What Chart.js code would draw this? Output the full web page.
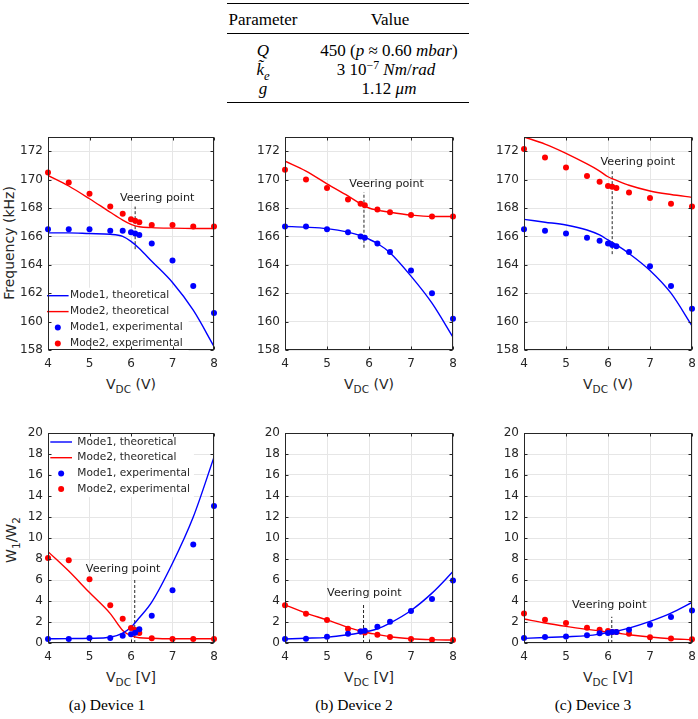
<!DOCTYPE html>
<html>
<head>
<meta charset="utf-8">
<script src="https://cdn.jsdelivr.net/npm/chart.js@4.4.1/dist/chart.umd.min.js"></script>
<style>
  body { margin: 0; background: #fff; }
  #page { position: relative; width: 698px; height: 719px; overflow: hidden; font-family: 'DejaVu Sans', sans-serif; color: #262626; }
  canvas { position: absolute; }
  .lbl { position: absolute; white-space: nowrap; transform: translate(-50%, -50%); line-height: 1; }
  .ax { font-size: 14px; }
  .rot { transform: translate(-50%, -50%) rotate(-90deg); }
  .serif { font-family: 'Liberation Serif', serif; color: #000; }
  .tab { font-size: 17px; }
  .cap { font-size: 15.5px; }
  .rule { position: absolute; left: 227px; width: 242px; background: #000; }
  sub { font-size: 75%; vertical-align: -0.4em; line-height: 0; }
  sup { font-size: 70%; vertical-align: 0.5em; line-height: 0; }
</style>
</head>
<body>
<div id="page">
  <!-- parameter table -->
  <div class="rule" style="top:3px;height:1.4px"></div>
  <div class="rule" style="top:33px;height:0.8px"></div>
  <div class="rule" style="top:102px;height:1.4px"></div>
  <div class="lbl serif tab" style="left:263px;top:19px">Parameter</div>
  <div class="lbl serif tab" style="left:390px;top:19px">Value</div>
  <div class="lbl serif tab" style="left:263px;top:50px"><i>Q</i></div>
  <div class="lbl serif tab" style="left:389px;top:50px">450 (<i>p</i> &asymp; 0.60 <i>mbar</i>)</div>
  <div class="lbl serif tab" style="left:263px;top:69px"><i>k&#771;</i><sub><i>e</i></sub></div>
  <div class="lbl serif tab" style="left:386px;top:69px">3 10<sup>&minus;7</sup> <i>Nm</i>/<i>rad</i></div>
  <div class="lbl serif tab" style="left:263px;top:88px"><i>g</i></div>
  <div class="lbl serif tab" style="left:389px;top:88px">1.12 <i>&mu;m</i></div>

  <!-- axis titles -->
  <div class="lbl ax rot" style="left:9px;top:243px">Frequency (kHz)</div>
  <div class="lbl ax rot" style="left:11px;top:540px">W<sub>1</sub>/W<sub>2</sub></div>
  <div class="lbl ax" style="left:131px;top:384px">V<sub>DC</sub> (V)</div>
  <div class="lbl ax" style="left:369px;top:384px">V<sub>DC</sub> (V)</div>
  <div class="lbl ax" style="left:608px;top:384px">V<sub>DC</sub> (V)</div>
  <div class="lbl ax" style="left:131px;top:677px">V<sub>DC</sub> [V]</div>
  <div class="lbl ax" style="left:369px;top:677px">V<sub>DC</sub> [V]</div>
  <div class="lbl ax" style="left:608px;top:677px">V<sub>DC</sub> [V]</div>

  <div class="lbl serif cap" style="left:107px;top:705px">(a) Device 1</div>
  <div class="lbl serif cap" style="left:354px;top:705px">(b) Device 2</div>
  <div class="lbl serif cap" style="left:593px;top:705px">(c) Device 3</div>
</div>
<script>
// bias voltage (V) where things were measured / computed
const vdcTheory = [4, 4.5, 5, 5.5, 5.8, 6, 6.2, 6.5, 7, 7.5, 8];
const vdcExp = [4, 4.5, 5, 5.5, 5.8, 6, 6.1, 6.2, 6.5, 7, 7.5, 8];
const vdcExpDev2 = [4, 4.5, 5, 5.5, 5.8, 5.9, 6.2, 6.5, 7, 7.5, 8];

const vdcTicks = [4, 5, 6, 7, 8];
const freqTicks = [158, 160, 162, 164, 166, 168, 170, 172];
const ratioTicks = [0, 2, 4, 6, 8, 10, 12, 14, 16, 18, 20];

// frequencies (kHz)
const freq1Mode1Exp = [166.5, 166.5, 166.5, 166.4, 166.4, 166.3, 166.2, 166.1, 165.5, 164.3, 162.5, 160.6];
const freq1Mode2Exp = [170.5, 169.8, 169.0, 168.1, 167.6, 167.2, 167.1, 167.0, 166.8, 166.8, 166.7, 166.7];
const freq1Mode1Th = [166.25, 166.25, 166.2, 166.15, 166.0, 165.65, 165.15, 164.25, 162.75, 160.8, 158.25];
const freq1Mode2Th = [170.3, 169.55, 168.65, 167.7, 167.15, 166.85, 166.68, 166.62, 166.58, 166.56, 166.56];

const freq2Mode1Exp = [166.7, 166.7, 166.5, 166.3, 166.0, 165.9, 165.5, 164.9, 163.6, 162.0, 160.2];
const freq2Mode2Exp = [170.7, 170.0, 169.4, 168.6, 168.3, 168.2, 167.9, 167.7, 167.5, 167.4, 167.4];
const freq2Mode1Th = [166.7, 166.65, 166.55, 166.3, 166.05, 165.8, 165.5, 164.85, 163.2, 161.3, 158.9];
const freq2Mode2Th = [171.3, 170.6, 169.7, 168.85, 168.3, 168.0, 167.85, 167.7, 167.5, 167.4, 167.4];

const freq3Mode1Exp = [166.5, 166.4, 166.2, 165.9, 165.7, 165.5, 165.4, 165.3, 164.9, 163.9, 162.5, 160.9];
const freq3Mode2Exp = [172.15, 171.55, 170.85, 170.25, 169.85, 169.55, 169.5, 169.4, 169.1, 168.7, 168.3, 168.1];
const freq3Mode1Th = [167.2, 167.0, 166.8, 166.45, 166.1, 165.75, 165.4, 164.8, 163.6, 162.0, 159.7];
const freq3Mode2Th = [173.0, 172.5, 171.85, 171.1, 170.6, 170.2, 169.95, 169.6, 169.2, 168.95, 168.75];

// amplitude ratio W1/W2
const ratio1Mode1Exp = [0.38, 0.38, 0.47, 0.48, 0.68, 0.84, 0.98, 1.3, 2.6, 5.03, 9.37, 13.04];
const ratio1Mode2Exp = [8.1, 7.88, 6.08, 3.6, 2.3, 1.42, 1.25, 0.95, 0.46, 0.38, 0.38, 0.38];
const ratio1Mode1Th = [0.4, 0.42, 0.45, 0.55, 0.95, 1.5, 2.4, 3.9, 7.6, 12.0, 17.7];
const ratio1Mode2Th = [8.7, 6.85, 4.8, 2.8, 1.2, 0.7, 0.5, 0.45, 0.4, 0.4, 0.4];

const ratio2Mode1Exp = [0.38, 0.41, 0.6, 0.89, 1.1, 1.17, 1.55, 2.03, 3.04, 4.2, 5.95];
const ratio2Mode2Exp = [3.6, 2.78, 2.2, 1.36, 1.1, 1.0, 0.79, 0.57, 0.38, 0.32, 0.28];
const ratio2Mode1Th = [0.38, 0.45, 0.54, 0.78, 0.98, 1.14, 1.35, 1.9, 3.1, 4.75, 6.8];
const ratio2Mode2Th = [3.64, 2.85, 2.2, 1.49, 1.15, 0.95, 0.82, 0.6, 0.41, 0.32, 0.28];

const ratio3Mode1Exp = [0.47, 0.57, 0.63, 0.73, 0.92, 0.95, 1.04, 1.04, 1.27, 1.74, 2.47, 3.1];
const ratio3Mode2Exp = [2.82, 2.22, 1.9, 1.46, 1.27, 1.14, 1.04, 1.04, 0.89, 0.54, 0.44, 0.35];
const ratio3Mode1Th = [0.44, 0.52, 0.6, 0.7, 0.85, 1.0, 1.12, 1.42, 2.06, 2.85, 3.86];
const ratio3Mode2Th = [2.28, 1.9, 1.58, 1.3, 1.15, 1.04, 0.95, 0.79, 0.57, 0.41, 0.32];

// veering point markers (dashed line)
const veerFreqX = [6.1, 5.88, 6.1];
const veerFreqLow = [165.1, 165.2, 164.75];
const veerFreqHigh = [168.1, 169.1, 170.6];
const veerRatioX = [6.09, 5.87, 6.09];
const veerRatioHigh = [6.0, 3.7, 2.5];

const BLUE = '#0000ff', RED = '#ff0000', INK = '#262626', GRID = '#e6e6e6';
const AXIS_W = 44, AXIS_H = 34, PAD_T = 18, PAD_R = 18;

Chart.defaults.font.family = "'DejaVu Sans', sans-serif";
Chart.defaults.font.size = 12;
Chart.defaults.color = INK;

function pts(xs, ys) {
    return xs.map((x, i) => ({ x: x, y: ys[i] }));
}

// MATLAB-like box with inward ticks
const frame = {
    id: 'frame',
    afterDraw(chart) {
        const { ctx, chartArea: a, scales } = chart;
        const L = Math.round(a.left) + 0.5, R = Math.round(a.right) - 0.5;
        const T = Math.round(a.top) + 0.5, B = Math.round(a.bottom) - 0.5;
        ctx.save();
        ctx.strokeStyle = INK;
        ctx.lineWidth = 1;
        ctx.strokeRect(L, T, R - L, B - T);
        ctx.beginPath();
        scales.x.ticks.forEach(t => {
            const px = Math.round(scales.x.getPixelForValue(t.value)) + 0.5;
            ctx.moveTo(px, B); ctx.lineTo(px, B - 3);
            ctx.moveTo(px, T); ctx.lineTo(px, T + 3);
        });
        scales.y.ticks.forEach(t => {
            const py = Math.round(scales.y.getPixelForValue(t.value)) + 0.5;
            ctx.moveTo(L, py); ctx.lineTo(L + 3, py);
            ctx.moveTo(R, py); ctx.lineTo(R - 3, py);
        });
        ctx.stroke();
        ctx.restore();
    }
};

// legend inside the plot; background goes under the data so curves stay visible
const insetLegend = {
    id: 'insetLegend',
    beforeDatasetsDraw(chart, args, o) {
        if (!o.items) return;
        const { ctx, chartArea: a } = chart;
        const x0 = a.left + o.x, y0 = a.top + o.y;
        ctx.save();
        ctx.font = "10.6px 'DejaVu Sans'";
        const widths = o.items.map(i => ctx.measureText(chart.data.datasets[i].label).width);
        ctx.fillStyle = '#fff';
        ctx.fillRect(Math.max(x0, a.left + 1), y0 - 8, o.textDx + Math.max(...widths) + 4, o.rowH * (o.items.length - 1) + 16);
        ctx.restore();
    },
    afterDatasetsDraw(chart, args, o) {
        if (!o.items) return;
        const { ctx, chartArea: a } = chart;
        const x0 = a.left + o.x, y0 = a.top + o.y;
        ctx.save();
        ctx.font = "10.6px 'DejaVu Sans'";
        o.items.forEach((i, k) => {
            const ds = chart.data.datasets[i];
            const y = y0 + k * o.rowH;
            if (ds.showLine) {
                ctx.strokeStyle = ds.borderColor;
                ctx.lineWidth = ds.borderWidth;
                ctx.beginPath();
                ctx.moveTo(x0, y); ctx.lineTo(x0 + o.lineLen, y);
                ctx.stroke();
            } else {
                ctx.fillStyle = ds.backgroundColor;
                ctx.beginPath();
                ctx.arc(x0 + o.lineLen / 2, y, ds.pointRadius, 0, Math.PI * 2);
                ctx.fill();
            }
            ctx.fillStyle = INK;
            ctx.textBaseline = 'middle';
            ctx.fillText(ds.label, x0 + o.textDx, y);
        });
        ctx.restore();
    }
};

const veerLabel = {
    id: 'veerLabel',
    afterDatasetsDraw(chart, args, o) {
        if (!o.at) return;
        const { ctx, scales } = chart;
        ctx.save();
        ctx.font = "11.2px 'DejaVu Sans'";
        ctx.fillStyle = '#1a1a1a';
        ctx.textAlign = 'center';
        ctx.textBaseline = 'middle';
        ctx.fillText('Veering point', scales.x.getPixelForValue(o.at[0]), scales.y.getPixelForValue(o.at[1]));
        ctx.restore();
    }
};

const panels = [
    { box: [48, 137, 166, 213], ticks: freqTicks, yMin: 158, yMax: 173, xExp: vdcExp,
      series: [freq1Mode1Exp, freq1Mode2Exp, freq1Mode1Th, freq1Mode2Th],
      veer: [veerFreqX[0], veerFreqLow[0], veerFreqHigh[0]], label: [6.63, 168.7],
      legend: { x: -1, y: 158.7, rowH: 15.9, lineLen: 21.6, textDx: 23, items: [2, 3, 0, 1] } },
    { box: [285, 137, 168, 213], ticks: freqTicks, yMin: 158, yMax: 173, xExp: vdcExpDev2,
      series: [freq2Mode1Exp, freq2Mode2Exp, freq2Mode1Th, freq2Mode2Th],
      veer: [veerFreqX[1], veerFreqLow[1], veerFreqHigh[1]], label: [6.42, 169.67] },
    { box: [524, 137, 168, 213], ticks: freqTicks, yMin: 158, yMax: 173, xExp: vdcExp,
      series: [freq3Mode1Exp, freq3Mode2Exp, freq3Mode1Th, freq3Mode2Th],
      veer: [veerFreqX[2], veerFreqLow[2], veerFreqHigh[2]], label: [6.71, 171.2] },
    { box: [48, 433, 166, 210], ticks: ratioTicks, yMin: 0, yMax: 20, xExp: vdcExp,
      series: [ratio1Mode1Exp, ratio1Mode2Exp, ratio1Mode1Th, ratio1Mode2Th],
      veer: [veerRatioX[0], 0, veerRatioHigh[0]], label: [5.81, 7.06],
      legend: { x: 2.3, y: 9, rowH: 15.7, lineLen: 21.7, textDx: 27, items: [2, 3, 0, 1] } },
    { box: [285, 433, 168, 210], ticks: ratioTicks, yMin: 0, yMax: 20, xExp: vdcExpDev2,
      series: [ratio2Mode1Exp, ratio2Mode2Exp, ratio2Mode1Th, ratio2Mode2Th],
      veer: [veerRatioX[1], 0, veerRatioHigh[1]], label: [5.89, 4.78] },
    { box: [524, 433, 168, 210], ticks: ratioTicks, yMin: 0, yMax: 20, xExp: vdcExp,
      series: [ratio3Mode1Exp, ratio3Mode2Exp, ratio3Mode1Th, ratio3Mode2Th],
      veer: [veerRatioX[2], 0, veerRatioHigh[2]], label: [6.03, 3.64] }
];

const page = document.getElementById('page');

panels.forEach(p => {
    const [bx, by, bw, bh] = p.box;
    const cv = document.createElement('canvas');
    const w = AXIS_W + bw + PAD_R, h = PAD_T + bh + AXIS_H;
    cv.width = w; cv.height = h;
    cv.style.width = w + 'px'; cv.style.height = h + 'px';
    page.appendChild(cv);

    const [m1Exp, m2Exp, m1Th, m2Th] = p.series;
    const dot = (label, data, color) => ({
        label: label, data: data, showLine: false, backgroundColor: color, borderColor: color,
        pointRadius: 3, pointBorderWidth: 0, clip: false, order: 0
    });
    const curve = (label, data, color) => ({
        label: label, data: data, showLine: true, borderColor: color, backgroundColor: color,
        borderWidth: 1.4, pointRadius: 0, cubicInterpolationMode: 'monotone', order: 1
    });

    const chart = new Chart(cv, {
        type: 'scatter',
        data: {
            datasets: [
                dot('Mode1, experimental', pts(p.xExp, m1Exp), BLUE),
                dot('Mode2, experimental', pts(p.xExp, m2Exp), RED),
                curve('Mode1, theoretical', pts(vdcTheory, m1Th), BLUE),
                curve('Mode2, theoretical', pts(vdcTheory, m2Th), RED),
                {
                    label: '', data: [{ x: p.veer[0], y: p.veer[1] }, { x: p.veer[0], y: p.veer[2] }],
                    showLine: true, borderColor: INK, borderWidth: 1, borderDash: [3, 2], pointRadius: 0, order: 2
                }
            ]
        },
        options: {
            responsive: false,
            animation: false,
            events: [],
            layout: { padding: { top: PAD_T, right: PAD_R, left: 0, bottom: 0 } },
            scales: {
                x: {
                    type: 'linear', min: 4, max: 8,
                    afterBuildTicks: s => { s.ticks = vdcTicks.map(v => ({ value: v })); },
                    afterFit: s => { s.height = AXIS_H; },
                    ticks: { padding: 7, color: INK },
                    grid: { color: GRID, drawTicks: false },
                    border: { display: false }
                },
                y: {
                    min: p.yMin, max: p.yMax,
                    afterBuildTicks: s => { s.ticks = p.ticks.map(v => ({ value: v })); },
                    afterFit: s => { s.width = AXIS_W; },
                    ticks: { padding: 5, color: INK },
                    grid: { color: GRID, drawTicks: false },
                    border: { display: false }
                }
            },
            plugins: {
                legend: { display: false },
                tooltip: { enabled: false },
                insetLegend: p.legend || {},
                veerLabel: { at: p.label }
            }
        },
        plugins: [frame, insetLegend, veerLabel]
    });

    const a = chart.chartArea;
    cv.style.left = (bx - a.left) + 'px';
    cv.style.top = (by - a.top) + 'px';
});
</script>
</body>
</html>
